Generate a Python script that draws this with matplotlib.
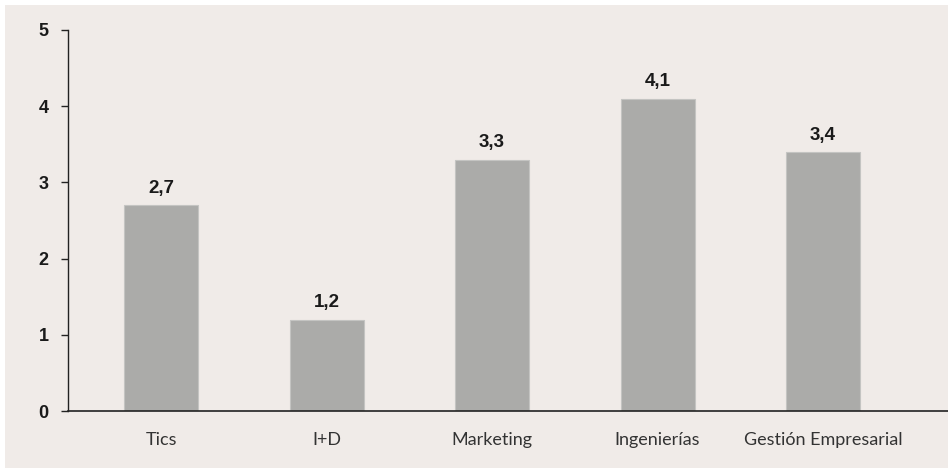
import matplotlib.pyplot as plt
from matplotlib.patches import Rectangle

# Data
categories = ['Tics', 'I+D', 'Marketing', 'Ingenierías', 'Gestión Empresarial']
values = [2.7, 1.2, 3.3, 4.1, 3.4]
value_labels = ['2,7', '1,2', '3,3', '4,1', '3,4']
yticks = [0, 1, 2, 3, 4, 5]

bg = '#f0ebe8'
bar_color = '#ababa9'

fig = plt.figure(figsize=(9.48, 4.68), dpi=100, facecolor='white')
# beige panel with a small white margin on the left/top
fig.patches.append(Rectangle((5 / 948, 0), 1, 1 - 5 / 468, transform=fig.transFigure,
                             facecolor=bg, edgecolor='none', zorder=-5))

ax = fig.add_axes([68 / 948, 1 - 411 / 468, 880 / 948, (411 - 30) / 468])
ax.set_facecolor('none')

x = list(range(len(categories)))
ax.bar(x, values, width=0.447, color=bar_color, edgecolor='#c4c4c2', linewidth=0.8, zorder=2)

for xi, v, lab in zip(x, values, value_labels):
    ax.annotate(lab, (xi, v), xytext=(0, 6), textcoords='offset points',
                ha='center', va='bottom', fontsize=13.5, fontweight='bold',
                family='Liberation Sans', color='#1a1a1a')

ax.set_ylim(0, 5)
ax.set_xlim(-0.562, 4.755)
ax.set_yticks(yticks)
ax.set_yticklabels([str(t) for t in yticks], fontsize=13, fontweight='bold',
                   family='Liberation Sans', color='#1a1a1a')
ax.set_xticks(x)
ax.set_xticklabels(categories, fontsize=13, family='Lato', color='#333333')

ax.tick_params(axis='y', length=5, width=1, pad=9, color='#222222')
ax.tick_params(axis='x', length=0, pad=15)

for side in ['top', 'right']:
    ax.spines[side].set_visible(False)
ax.spines['left'].set_color('#222222')
ax.spines['bottom'].set_color('#222222')
ax.spines['left'].set_linewidth(1)
ax.spines['bottom'].set_linewidth(1.2)

fig.savefig('out.png', dpi=100, facecolor='white')
